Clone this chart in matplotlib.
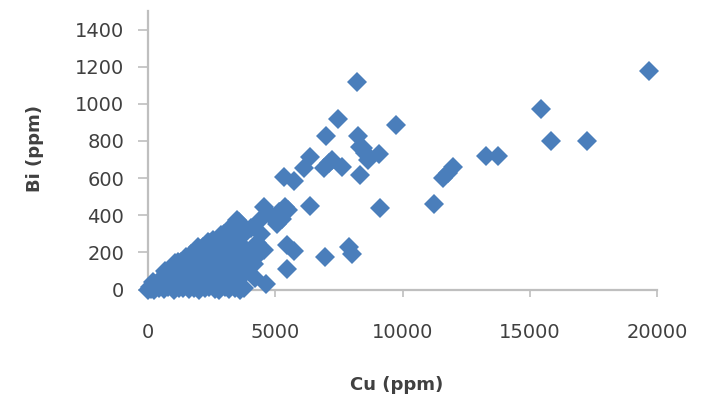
import matplotlib
matplotlib.use("Agg")
import matplotlib.pyplot as plt

# Cu / Bi values (ppm)
cu_high = [19700, 15460, 15850, 17260, 13300, 13760, 12000, 11800, 11610, 11220,
           8210, 7470, 9740, 7000, 8240, 8340, 8540, 9060, 8630, 6380, 6120,
           7230, 6910, 7620, 8340, 5340, 5730, 5400, 6360, 9130, 5280, 5470,
           5730, 6970, 7890, 8020, 5470, 5200, 5500, 7100, 8450]
bi_high = [1175, 971, 801, 801, 718, 718, 661, 630, 598, 459,
           1117, 918, 884, 827, 827, 769, 735, 729, 697, 715, 652,
           697, 652, 661, 616, 607, 585, 445, 450, 439, 382, 238,
           207, 175, 229, 189, 112, 420, 430, 680, 760]

cu_mid = [4560, 4800, 5130, 4350, 5080, 4030, 4430, 4560, 4430, 4620, 3840,
          4160, 4300, 4000, 3700, 3900, 4200, 3650, 3580, 3190]
bi_mid = [445, 400, 415, 370, 355, 330, 301, 211, 201, 31, 103,
          139, 250, 200, 290, 160, 60, 240, 364, 319]

cu_low = [0, 60, 150, 300, 480, 650, 900, 1050, 1300, 1500, 1700, 1950, 2150,
          2350, 2550, 2850, 3150, 3350, 3510, 3450,
          100, 250, 420, 610, 790, 1010, 1220, 1390, 1610, 1820, 2010, 2230,
          2380, 2620, 2790, 3030, 3180, 3420, 3620, 3760,
          210, 520, 780, 1120, 1380, 1720, 2020, 2290, 2610, 2880, 3220, 3530,
          690, 1020, 1310, 1580, 1920, 2180, 2520, 2790, 3120, 3380, 3690,
          1180, 1520, 1790, 2120, 2410, 2710, 2980, 3310, 3580,
          1810, 2090, 2420, 2690, 3020, 3280, 3610,
          2430, 2710, 3010, 3290, 3560, 2980, 3320, 3640]
bi_low = [0, 15, 10, 25, 50, 100, 110, 145, 150, 175, 190, 228, 230,
          256, 265, 292, 318, 335, 373, 340,
          5, 0, 8, 3, 12, 0, 6, 10, 2, 9, 0, 7,
          14, 3, 0, 11, 5, 8, 0, 10,
          40, 55, 45, 60, 48, 52, 40, 58, 46, 55, 42, 50,
          95, 105, 90, 110, 98, 104, 92, 108, 96, 102, 90,
          150, 145, 155, 148, 152, 144, 158, 150, 146,
          200, 195, 205, 198, 202, 196, 204,
          248, 252, 246, 255, 250, 298, 302, 296]

cu = cu_high + cu_mid + cu_low
bi = bi_high + bi_mid + bi_low

text_col = "#404040"
axis_col = "#BFBFBF"

fig = plt.figure(figsize=(7.05, 3.97), dpi=100)
ax = fig.add_axes([148 / 705, 1 - 289.5 / 397, 509 / 705, 278.5 / 397])

ax.plot(cu, bi, linestyle="none", marker="D", markersize=10,
        color="#4A7EBB", markeredgewidth=0, clip_on=False, zorder=3)

ax.set_xlim(0, 20000)
ax.set_ylim(0, 1500)
ax.set_xticks([0, 5000, 10000, 15000, 20000])
ax.set_yticks(range(0, 1401, 200))

for s in ("top", "right"):
    ax.spines[s].set_visible(False)
for s in ("left", "bottom"):
    ax.spines[s].set_color(axis_col)
    ax.spines[s].set_linewidth(1.6)

ax.tick_params(axis="both", colors=axis_col, labelcolor=text_col,
               labelsize=14, width=1.2)
ax.tick_params(axis="y", length=7, pad=10)
ax.tick_params(axis="x", length=5, pad=19)

ax.set_xlabel("Cu (ppm)", fontsize=13, fontweight="bold", color=text_col)
ax.set_ylabel("Bi (ppm)", fontsize=13, fontweight="bold", color=text_col)
ax.xaxis.set_label_coords(0.489, -0.31)
ax.yaxis.set_label_coords(-0.205, 0.508)

fig.savefig("out.png", dpi=100)
plt.close(fig)
